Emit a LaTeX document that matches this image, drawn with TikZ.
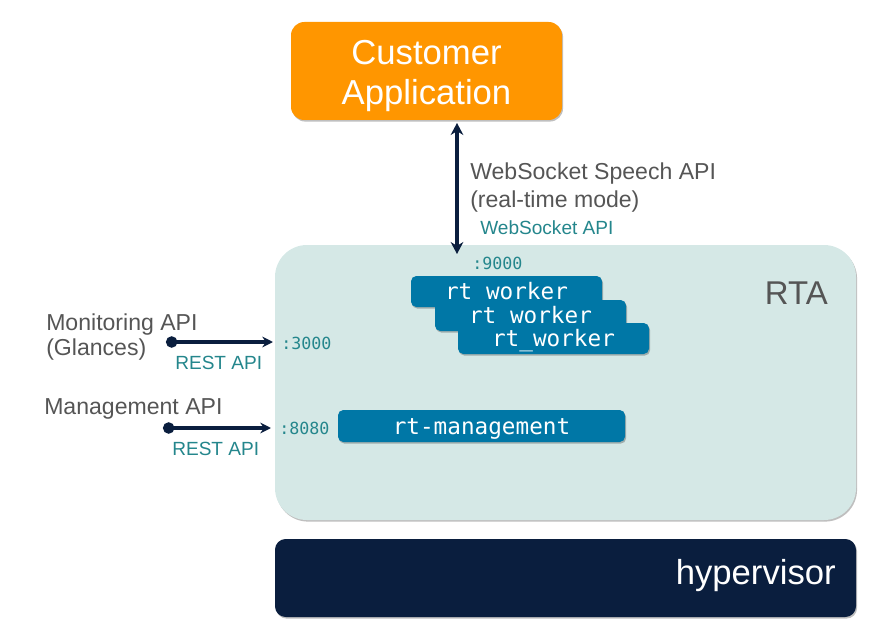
\documentclass[tikz,border=0pt]{standalone}
\usepackage{fontspec}
\setmainfont{Liberation Sans}
\setmonofont{DejaVu Sans Mono}
\usetikzlibrary{arrows.meta,shadows}
\definecolor{orangeC}{RGB}{255,150,0}
\definecolor{rtaC}{RGB}{213,232,230}
\definecolor{blueC}{RGB}{0,119,166}
\definecolor{navyC}{RGB}{10,30,62}
\definecolor{tealC}{RGB}{36,134,140}
\definecolor{grayC}{RGB}{85,85,85}
\begin{document}
\begin{tikzpicture}[x=0.75pt,y=-0.75pt,
  softshadow/.style={drop shadow={shadow xshift=0.8pt,shadow yshift=-1.2pt,opacity=0.25,fill=black}},
  wbox/.style={fill=blueC,rounded corners=4pt,inner sep=0pt,text=white,
    font=\ttfamily\fontsize{17}{20}\selectfont,softshadow,
    text height=12pt,text depth=0pt,
    minimum width={191*0.75pt},minimum height={31*0.75pt}},
  graylbl/.style={text=grayC,font=\fontsize{17.3}{21}\selectfont,inner sep=0pt},
  teallbl/.style={text=tealC,font=\fontsize{14.3}{17}\selectfont,inner sep=0pt},
  portlbl/.style={text=tealC,font=\ttfamily\fontsize{12.5}{15}\selectfont,inner sep=0pt},
  conn/.style={draw=navyC,line width=2.5pt},
]
\useasboundingbox (0,0) rectangle (872,635);

% Customer application
\node[fill=orangeC,rounded corners=10pt,softshadow,
  minimum width={271*0.75pt},minimum height={98*0.75pt},inner sep=0pt] (cust) at (426.5,71) {};
\node[text=white,align=center,font=\fontsize{26}{30}\selectfont,inner sep=0pt] (custlbl) at (426.5,76)
  {Customer\\Application};

% RTA container
\node[fill=rtaC,rounded corners=24pt,softshadow,
  minimum width={581*0.75pt},minimum height={275*0.75pt},inner sep=0pt] (rta) at (565.5,382.5) {};
\node[anchor=base east,text=grayC,font=\fontsize{24.7}{28}\selectfont,inner sep=0pt] (rtalbl) at (828,304) {RTA};

% hypervisor
\node[fill=navyC,rounded corners=8pt,softshadow,
  minimum width={581*0.75pt},minimum height={78*0.75pt},inner sep=0pt] (hyp) at (565.5,578) {};
\node[anchor=base east,text=white,font=\fontsize{26}{30}\selectfont,inner sep=0pt] (hyplbl) at (836,584) {hypervisor};

% workers
\node[wbox] (w1) at (506.5,291.5) {rt\_worker};
\node[wbox] (w2) at (530.5,315.5) {rt\_worker};
\node[wbox] (w3) at (553.5,338.5) {rt\_worker};

% management
\node[wbox,minimum width={287*0.75pt},minimum height={32*0.75pt}] (mgmt) at (481.5,426) {rt-management};

% ports
\node[portlbl,anchor=base west] (p9000) at (472,269) {:9000};
\node[portlbl,anchor=base west] (p3000) at (281,349) {:3000};
\node[portlbl,anchor=base west] (p8080) at (279,434) {:8080};

% WebSocket connector
\coordinate (wsTop) at (457,123);
\coordinate (wsBot) at (457,254);
\draw[conn,{Stealth[length=9pt,width=9.5pt]}-{Stealth[length=9pt,width=9.5pt]}] (wsTop) -- (wsBot);
\node[graylbl,anchor=base west] (ws1) at (470,180) {WebSocket Speech API};
\node[graylbl,anchor=base west] (ws2) at (470,207) {(real-time mode)};
\node[teallbl,anchor=base west] (ws3) at (480,234) {WebSocket API};

% Monitoring
\node[graylbl,anchor=base west] (mon1) at (46,330) {Monitoring API};
\node[graylbl,anchor=base west] (mon2) at (46,355) {(Glances)};
\coordinate (monS) at (166,342);
\coordinate (monE) at (273,342);
\draw[conn,{Circle[length=8.5pt]}-{Stealth[length=8pt,width=8pt]}] (monS) -- (monE);
\node[teallbl,anchor=base west] (rest1) at (175,369) {REST API};

% Management
\node[graylbl,anchor=base west] (man1) at (44,414) {Management API};
\coordinate (manS) at (163,428);
\coordinate (manE) at (271,428);
\draw[conn,{Circle[length=8.5pt]}-{Stealth[length=8pt,width=8pt]}] (manS) -- (manE);
\node[teallbl,anchor=base west] (rest2) at (172,455) {REST API};
\end{tikzpicture}
\end{document}
